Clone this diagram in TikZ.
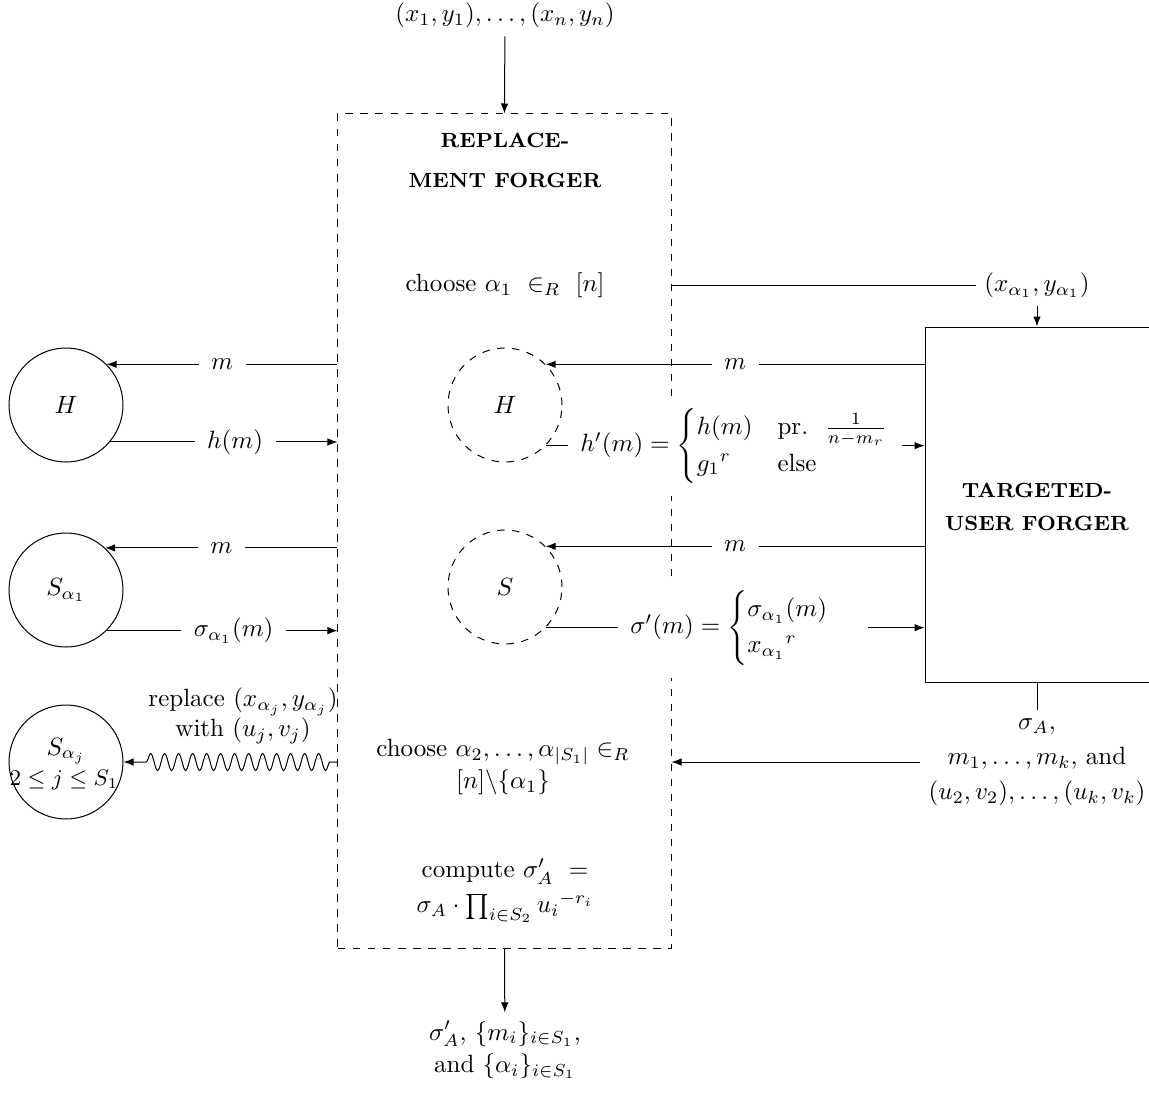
\documentclass[tikz,border=0pt]{standalone}
\usepackage{amsmath}
\usetikzlibrary{arrows.meta,decorations.pathmorphing}
\begin{document}
\begin{tikzpicture}[x=0.40pt,y=-0.40pt,
  arr/.style={-{Latex[length=4pt,width=3pt]}},
  lab/.style={fill=white,inner sep=5pt},
  circ/.style={draw,circle,minimum size=45.6pt,inner sep=0pt},
  dcirc/.style={circ,dashed},
  ttl/.style={font=\bfseries\fontsize{8.2}{10}\selectfont,align=center},
  txt/.style={align=center}]
\useasboundingbox (0,0) rectangle (1149,1094);
% boxes
\node[draw,dashed,minimum width=133.2pt,minimum height=333.6pt,inner sep=0pt] (rf) at (504.5,531) {};
\node[draw,minimum width=89.6pt,minimum height=142pt,inner sep=0pt] (tf) at (1037,504.5) {};
\node[ttl] (rft) at (505,160) {REPLACE-\\[6pt]MENT FORGER};
\node[ttl] (tft) at (1037,507) {TARGETED-\\[3pt]USER FORGER};
% input
\node (inp) at (505,15) {$(x_1,y_1),\ldots,(x_n,y_n)$};
\draw[arr] (inp) -- (rf.north);
% choose alpha1
\node (ch1) at (505,285) {choose $\alpha_1\ \in_R\ [n]$};
\node (xa) at (1037,285) {$(x_{\alpha_1},y_{\alpha_1})$};
\draw (rf.east |- ch1) -- (xa);
\draw[arr] (xa) -- (tf.north);
% left oracles
\node[circ] (H) at (66,405) {$H$};
\node[circ] (Sa) at (66,590) {$S_{\alpha_1}$};
\node[circ] (Sj) at (66,762) {};
\node (Sjl) at (66,751) {$S_{\alpha_j}$};
\node[font=\small,inner sep=0pt] (Sjr) at (64,780) {$2\leq j\leq S_1$};
\draw[arr] (rf.west |- H.45) -- node[lab]{$m$} (H.45);
\draw[arr] (H.-40) -- node[lab,pos=0.55]{$h(m)$} (rf.west |- H.-40);
\draw[arr] (rf.west |- Sa.47) -- node[lab]{$m$} (Sa.47);
\draw[arr] (Sa.-45) -- node[lab,pos=0.55]{$\sigma_{\alpha_1}(m)$} (rf.west |- Sa.-45);
\draw[arr,decorate,decoration={snake,amplitude=3.4pt,segment length=5.6pt,pre length=3pt,post length=8.5pt}] (rf.west |- Sj) -- (Sj);
\node[txt] (rep) at (243,716) {replace $(x_{\alpha_j},y_{\alpha_j})$\\with $(u_j,v_j)$};
% simulated oracles
\node[dcirc] (Hd) at (505,405) {$H$};
\node[dcirc] (Sd) at (505,587) {$S$};
\draw[arr] (tf.west |- Hd.45) -- node[lab]{$m$} (Hd.45);
\draw[arr] (Hd.-45) -- node[lab,pos=0.5]{$h'(m)=\begin{cases}h(m) & \text{pr.}\ \ \frac{1}{n-m_r}\\ {g_1}^r & \text{else}\end{cases}$} (tf.west |- Hd.-45);
\draw[arr] (tf.west |- Sd.45) -- node[lab]{$m$} (Sd.45);
\draw[arr] (Sd.-45) -- node[lab,pos=0.52]{$\sigma'(m)=\begin{cases}\sigma_{\alpha_1}(m)\\ {x_{\alpha_1}}^r\end{cases}$} (tf.west |- Sd.-45);
% output of targeted forger
\node[txt] (out1) at (1037,762) {$\sigma_A$,\\[2pt]$m_1,\ldots,m_k$, and\\[2pt]$(u_2,v_2),\ldots,(u_k,v_k)$};
\draw (tf.south) -- (out1);
\draw[arr] (out1.west) -- (rf.east |- out1.west);
\node[txt] (ch2) at (503,767) {choose $\alpha_2,\ldots,\alpha_{|S_1|}\in_R$\\[1pt]$[n]\backslash\{\alpha_1\}$};
\node[txt] (comp) at (505,891) {compute $\sigma'_A\ =$\\[2pt]$\sigma_A\cdot\prod_{i\in S_2}{u_i}^{-r_i}$};
\node[txt] (outp) at (505,1050) {$\sigma'_A$, $\{m_i\}_{i\in S_1}$,\\[1pt]and $\{\alpha_i\}_{i\in S_1}$};
\draw[arr] (rf.south) -- (outp);
\end{tikzpicture}
\end{document}
